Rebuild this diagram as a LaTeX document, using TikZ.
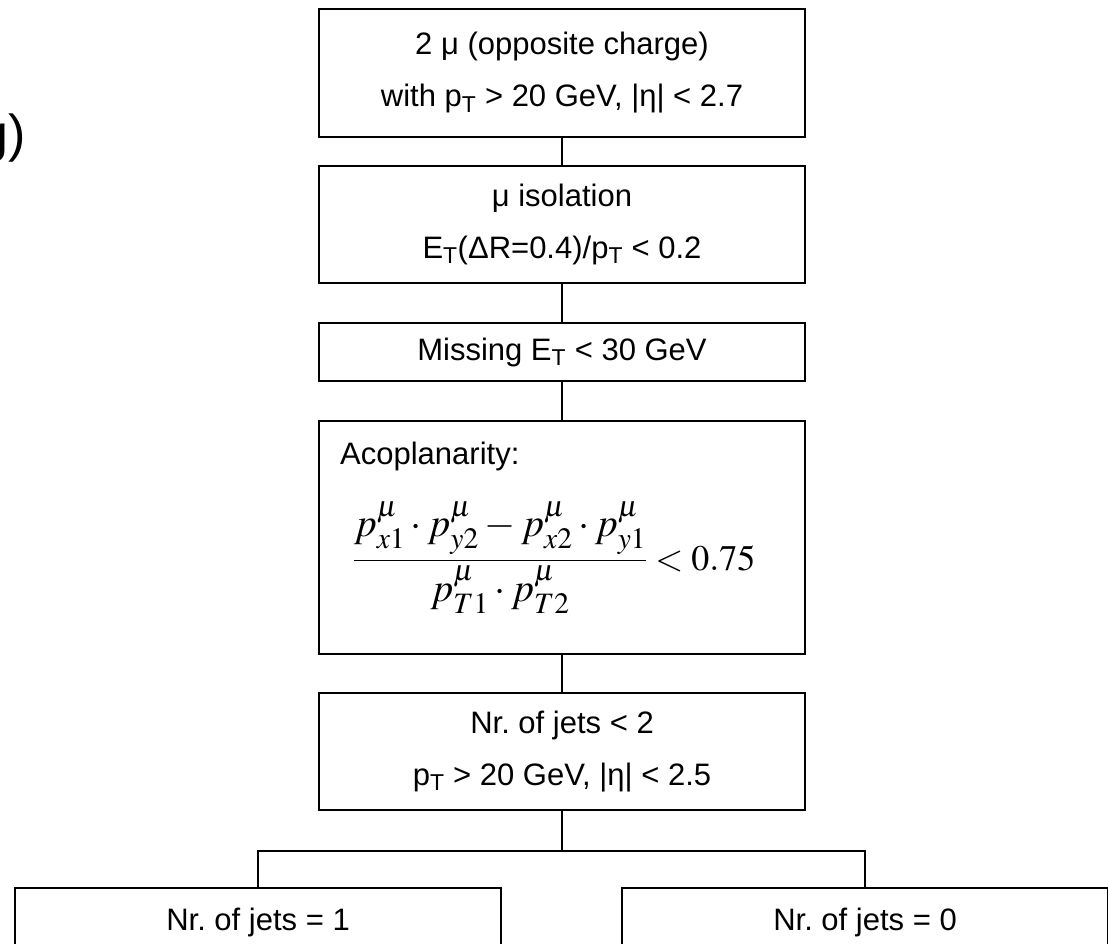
\documentclass[tikz,border=0pt]{standalone}
\usepackage{mathptmx}
\usepackage[no-math]{fontspec}
\setmainfont{Liberation Sans}
\usepackage{tikz}
\newcommand{\cutfont}{\fontsize{31}{52}\selectfont}
\newcommand{\formfont}{\fontsize{36}{40}\selectfont}
\newcommand{\fracfont}{\fontsize{40}{44}\selectfont}
\tikzstyle{cut} = [rectangle, minimum width=486pt, text centered, align=center, draw=black, line width=2pt, fill=white, font=\cutfont, inner sep=2pt]
\tikzstyle{link} = [line width=1.3pt, color=black]

\begin{document}
\begin{tikzpicture}[x=1pt, y=-1pt, node distance=150pt]
    \useasboundingbox (0,0) rectangle (1108,943);

    % cut-off caption on the left
    \node (tagtail) [anchor=base east, inner sep=0pt, font=\fontsize{52}{60}\selectfont] at (26,151) {g)};

    % selection chain
    \node (muons) [cut, minimum height=128pt] at (562,73) {2 μ (opposite charge)\\with p\textsubscript{T} > 20 GeV, |η| < 2.7};
    \node (isol) [cut, below of=muons, yshift=-1.5pt, minimum height=117pt] {μ isolation\\E\textsubscript{T}(ΔR=0.4)/p\textsubscript{T} < 0.2};
    \node (met) [cut, below of=isol, yshift=22.5pt, minimum height=58pt] {Missing E\textsubscript{T} < 30 GeV};
    \node (acopl) [cut, below of=met, yshift=-35.5pt, minimum height=233pt] {};
    \node (acopltitle) [anchor=west, font=\cutfont, inner sep=0pt] at ([xshift=22pt,yshift=-36pt]acopl.north west) {Acoplanarity:};
    \node (acoplform) [inner sep=0pt] at ([xshift=-8pt,yshift=-20pt]acopl.center)
        {{\fracfont$\displaystyle\frac{p^{\mu}_{x1}\cdot p^{\mu}_{y2}-p^{\mu}_{x2}\cdot p^{\mu}_{y1}\rule[-5pt]{0pt}{0pt}}{p^{\mu}_{T1}\cdot p^{\mu}_{T2}}$}{\formfont$\;<0.75$}};
    \node (jets) [cut, below of=acopl, yshift=-64pt, minimum height=117pt] {Nr.\ of jets < 2\\p\textsubscript{T} > 20 GeV, |η| < 2.5};

    % branches
    \node (jetsone) [cut, below of=jets, xshift=-304pt, yshift=-20.5pt, minimum height=68pt] {Nr.\ of jets = 1};
    \node (jetszero) [cut, below of=jets, xshift=303pt, yshift=-20.5pt, minimum height=68pt] {Nr.\ of jets = 0};

    % links
    \draw [link] (muons) -- (isol);
    \draw [link] (isol) -- (met);
    \draw [link] (met) -- (acopl);
    \draw [link] (acopl) -- (jets);
    \draw [link] (jets.south) -- ([yshift=-40pt]jets.south) -| (jetsone.north);
    \draw [link] ([yshift=-40pt]jets.south) -| (jetszero.north);
\end{tikzpicture}
\end{document}
